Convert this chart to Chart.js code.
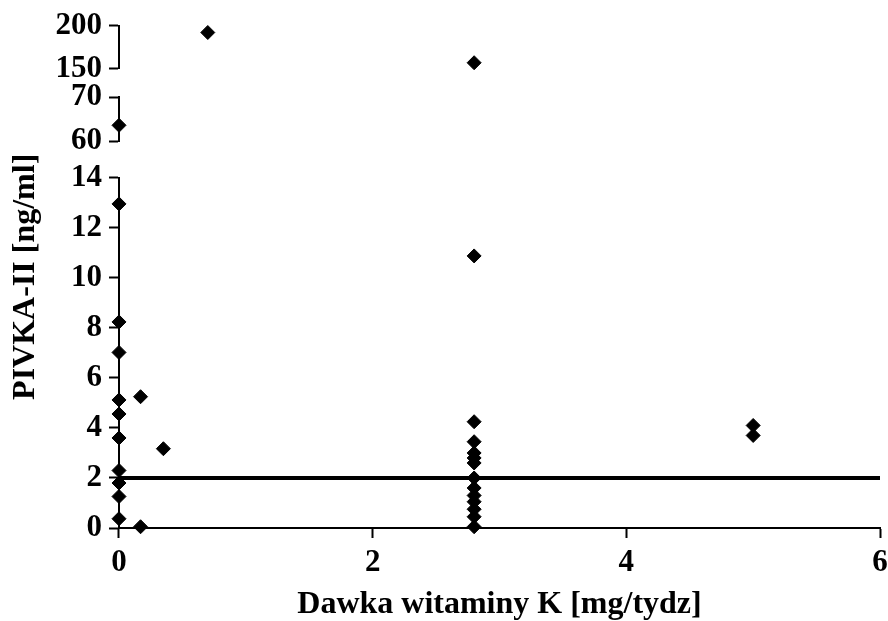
<!DOCTYPE html>
<html>
<head>
<meta charset="utf-8">
<script src="https://cdn.jsdelivr.net/npm/chart.js@4"></script>
<style>
  body { margin: 0; background: #fff; }
  canvas { display: block; }
</style>
</head>
<body>
<canvas id="pivkaChart" width="888" height="621"></canvas>
<script>
// Punkty w dolnym zakresie osi Y (0-14)
const lowX = [0, 0, 0, 0, 0, 0, 0, 0, 0, 0,
              0.17, 0.17, 0.35,
              2.8, 2.8, 2.8, 2.8, 2.8, 2.8, 2.8, 2.8, 2.8, 2.8, 2.8, 2.8, 2.8,
              5, 5];
const lowY = [12.96, 8.24, 7.02, 5.12, 4.56, 3.6, 2.3, 1.8, 1.26, 0.37,
              5.25, 0.05, 3.17,
              10.88, 4.25, 3.45, 3.0, 2.8, 2.6, 2.0, 1.6, 1.3, 1.05, 0.75, 0.45, 0.05,
              4.1, 3.7];
// Punkty w środkowym zakresie (60-70)
const midX = [0];
const midY = [63.6];
// Punkty w górnym zakresie (150-200)
const topX = [0.7, 2.8];
const topY = [192, 157];
// Linia odniesienia
const refX = [0, 6];
const refY = [2, 2];
// Podziałki
const xTicks = [0, 2, 4, 6];
const lowTicks = [0, 2, 4, 6, 8, 10, 12, 14];
const midTicks = [60, 70];
const topTicks = [150, 200];

const toPts = (xs, ys) => xs.map((x, i) => ({ x: x, y: ys[i] }));

const tickFont = { family: 'Liberation Serif', size: 31, weight: 'bold' };
const titleFont = { family: 'Liberation Serif', size: 32, weight: 'bold' };
const STACK_W = 69;

function yPart(min, max, tickVals, weight, stackWeight) {
    return {
        type: 'linear',
        position: 'left',
        stack: 'y',
        stackWeight: stackWeight,
        weight: weight,
        min: min,
        max: max,
        afterBuildTicks: (s) => { s.ticks = tickVals.map(v => ({ value: v })); },
        ticks: { autoSkip: false, color: '#000', font: tickFont, padding: 7 },
        grid: { drawOnChartArea: false, tickLength: 10, tickColor: '#000', tickWidth: 2 },
        border: { display: true, color: '#000', width: 2 },
        afterFit: (s) => { s.width = STACK_W; }
    };
}

function yGap(weight, stackWeight) {
    return {
        type: 'linear',
        position: 'left',
        stack: 'y',
        stackWeight: stackWeight,
        weight: weight,
        ticks: { display: false },
        grid: { display: false },
        border: { display: false },
        afterFit: (s) => { s.width = STACK_W; }
    };
}

const pointStyle = {
    pointStyle: 'rectRot',
    pointRadius: 7,
    pointBorderWidth: 1,
    backgroundColor: '#000',
    borderColor: '#000',
    clip: false
};

const ctx = document.getElementById('pivkaChart').getContext('2d');
new Chart(ctx, {
    type: 'scatter',
    data: {
        datasets: [
            Object.assign({ data: toPts(lowX, lowY), xAxisID: 'x', yAxisID: 'yLow' }, pointStyle),
            Object.assign({ data: toPts(midX, midY), xAxisID: 'x', yAxisID: 'yMid' }, pointStyle),
            Object.assign({ data: toPts(topX, topY), xAxisID: 'x', yAxisID: 'yTop' }, pointStyle),
            {
                type: 'line',
                data: toPts(refX, refY),
                xAxisID: 'x',
                yAxisID: 'yLow',
                borderColor: '#000',
                borderWidth: 4,
                pointRadius: 0,
                clip: false
            }
        ]
    },
    options: {
        responsive: false,
        animation: false,
        devicePixelRatio: 1,
        layout: { padding: { top: 24, right: 0, bottom: 0, left: 0 } },
        plugins: { legend: { display: false }, tooltip: { enabled: false } },
        scales: {
            x: {
                type: 'linear',
                position: 'bottom',
                min: 0,
                max: 6,
                afterBuildTicks: (s) => { s.ticks = xTicks.map(v => ({ value: v })); },
                ticks: { autoSkip: false, maxRotation: 0, color: '#000', font: tickFont, padding: 6 },
                grid: { drawOnChartArea: false, tickLength: 10, tickColor: '#000', tickWidth: 2 },
                border: { color: '#000', width: 2 },
                title: {
                    display: true,
                    text: 'Dawka witaminy K [mg/tydz]',
                    color: '#000',
                    font: titleFont,
                    padding: { top: 0, bottom: -3 }
                },
                afterFit: (s) => { s.height = 93; s.paddingRight = 8; }
            },
            yTitle: {
                type: 'linear',
                position: 'left',
                weight: 10,
                ticks: { display: false },
                grid: { display: false },
                border: { display: false },
                title: {
                    display: true,
                    text: 'PIVKA-II [ng/ml]',
                    color: '#000',
                    font: titleFont,
                    padding: { top: 7, bottom: 0 }
                },
                afterFit: (s) => { s.width = 50; }
            },
            yTop: yPart(150, 200, topTicks, 5, 43.3),
            gapA: yGap(4, 28.7),
            yMid: yPart(60, 70, midTicks, 3, 43.7),
            gapB: yGap(2, 37),
            yLow: yPart(0, 14, lowTicks, 1, 351)
        }
    }
});
</script>
</body>
</html>
